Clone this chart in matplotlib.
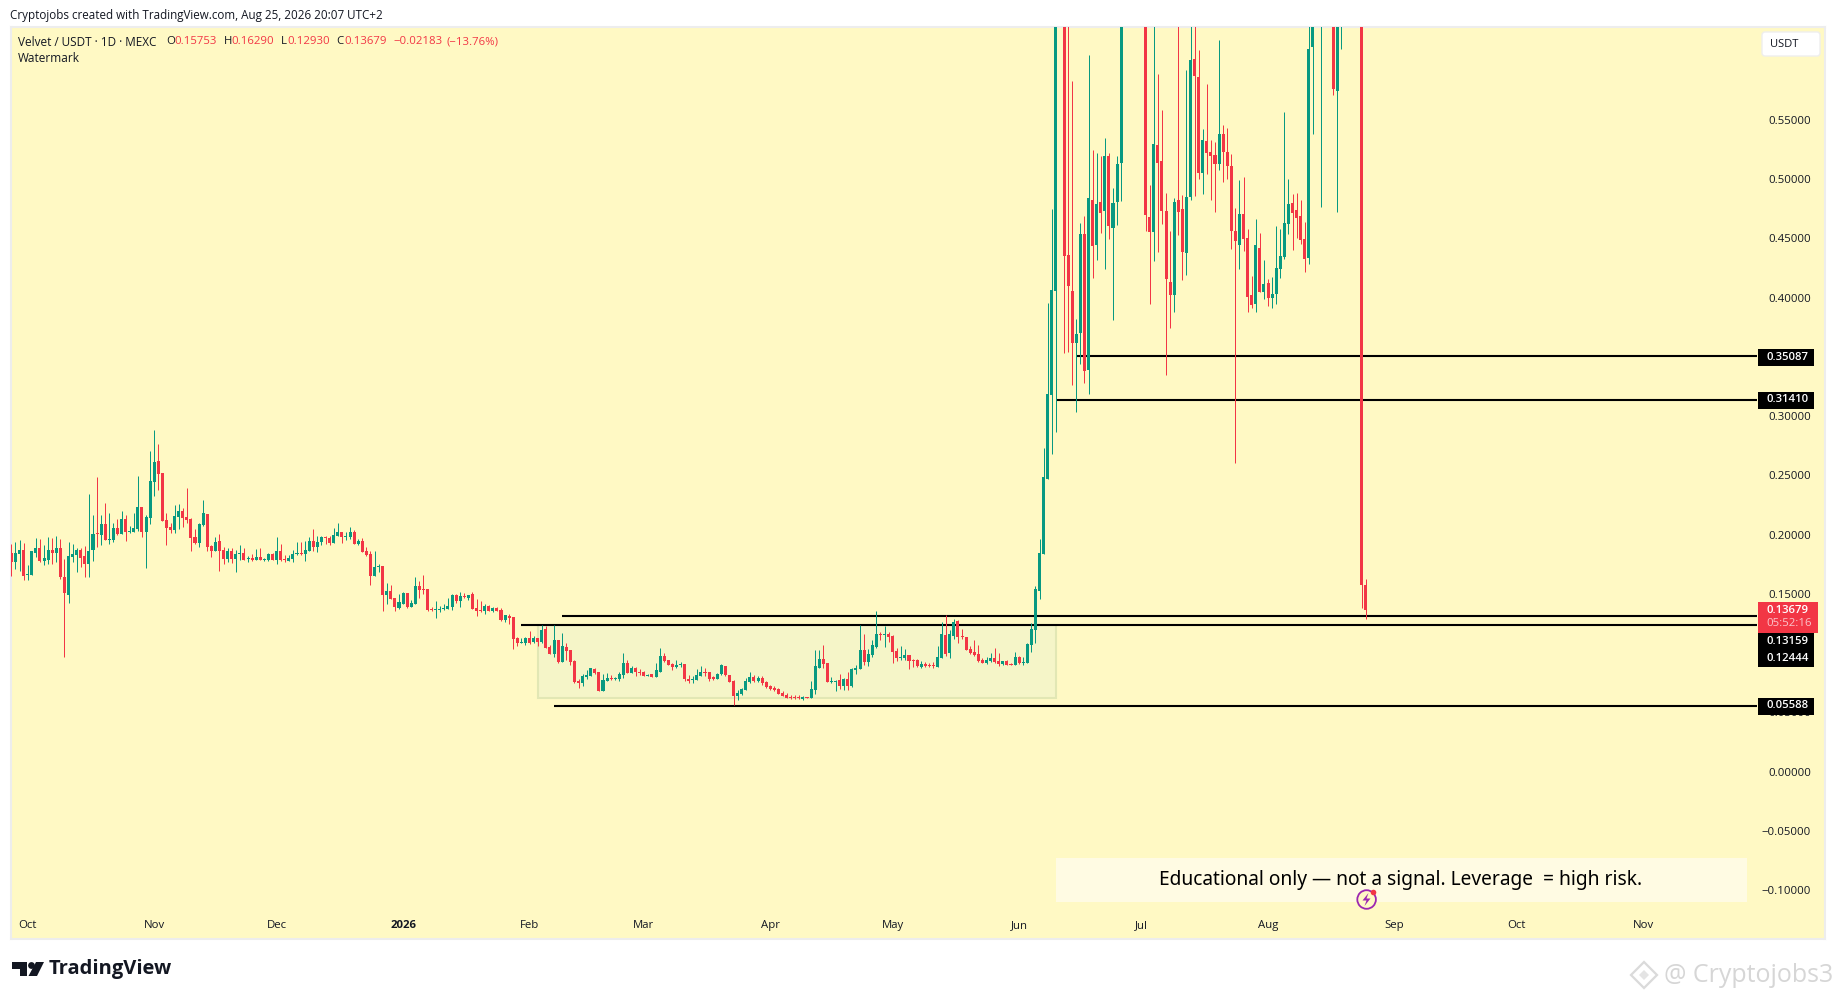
import numpy as np
import pandas as pd
import matplotlib
matplotlib.use("Agg")
import matplotlib.pyplot as plt
from matplotlib.patches import Rectangle, FancyBboxPatch, Circle, Polygon

# ---------------- data ----------------
start_date = "2025-09-27"
opens = [.1849,.1773,.1840,.1874,.1663,.1663,.1849,.1891,.1781,.1790,
.1874,.1849,.1891,.1646,.1494,.1815,.1832,.1874,.1824,.1756,
.1874,.2018,.2001,.2094,.1959,.1959,.2060,.2009,.2136,.2026,
.2026,.2051,.2237,.2026,.2144,.2448,.2626,.2524,.2127,.2068,
.2043,.2153,.2203,.2153,.2136,.1984,.1933,.2085,.2178,.1908,
.1866,.1950,.1874,.1798,.1866,.1798,.1840,.1849,.1798,.1807,
.1790,.1815,.1790,.1790,.1840,.1790,.1866,.1798,.1781,.1798,
.1840,.1849,.1840,.1866,.1950,.1900,.1942,.1984,.1976,.1933,
.1992,.2026,.1984,.1984,.2026,.1925,.1950,.1866,.1840,.1655,
.1731,.1739,.1494,.1528,.1469,.1385,.1418,.1511,.1393,.1418,
.1570,.1545,.1545,.1376,.1368,.1368,.1376,.1376,.1393,.1494,
.1444,.1486,.1469,.1503,.1385,.1368,.1359,.1401,.1359,.1385,
.1368,.1283,.1320,.1309,.1131,.1089,.1089,.1131,.1097,.1131,
.1095,.1207,.1055,.0996,.1114,.0929,.1055,.1030,.0937,.0768,
.0751,.0802,.0810,.0870,.0844,.0684,.0768,.0794,.0785,.0785,
.0819,.0920,.0836,.0878,.0844,.0844,.0810,.0827,.0802,.0844,
.0979,.0946,.0912,.0886,.0903,.0912,.0785,.0777,.0777,.0810,
.0844,.0844,.0802,.0785,.0827,.0895,.0819,.0768,.0642,.0659,
.0692,.0760,.0802,.0768,.0794,.0760,.0726,.0709,.0701,.0667,
.0650,.0633,.0625,.0625,.0616,.0633,.0625,.0692,.0878,.0954,
.0920,.0760,.0760,.0777,.0726,.0785,.0726,.0861,.0870,.1030,
.0929,.0988,.1055,.1165,.1157,.1165,.1148,.1022,.0962,.0962,
.0988,.0946,.0946,.0886,.0912,.0903,.0903,.0886,.0962,.1157,
.1005,.1148,.1275,.1148,.1140,.1038,.1013,.0996,.0946,.0920,
.0937,.0962,.0937,.0912,.0937,.0912,.0903,.0971,.0920,.0920,
.1072,.1199,.1528,.1840,.2474,.3183,.4061,.68,.70,.4365,
.4061,.3622,.3706,.4542,.3394,.4829,.4449,.4812,.4736,.5200,
.4593,.4812,.5141,.66,.68,.70,.72,.70,.68,.4685,
.4559,.5293,.5158,.4736,.4137,.4027,.4829,.4753,.4382,.4854,
.6019,.5867,.5057,.5327,.5234,.5209,.5133,.5386,.5234,.5116,
.4567,.4449,.4711,.4508,.4027,.3951,.4424,.4052,.4128,.4002,
.4035,.4246,.4348,.4626,.4804,.4745,.4694,.4500,.4339,.6121,
.66,.65,.70,.72,.72,.5749,.65,.70,.68,.68,
.70,.68,.15753]
highs = [.1925,.1942,.1959,.1933,.1748,.1866,.1976,.1967,.1916,.1984,
.1976,.1992,.1967,.1798,.1942,.1925,.1891,.1891,.1908,.2347,
.2170,.2490,.2170,.2271,.2187,.2102,.2136,.2203,.2170,.2077,
.2187,.2499,.2237,.2170,.2710,.2887,.2769,.2524,.2187,.2102,
.2254,.2263,.2229,.2398,.2144,.2051,.2102,.2296,.2178,.1916,
.1984,.2009,.1900,.1891,.1891,.1874,.1916,.1891,.1824,.1840,
.1883,.1891,.1807,.1849,.1849,.1984,.1925,.1832,.1832,.1874,
.1942,.1942,.1950,.1984,.2051,.1992,.1992,.1992,.1992,.2060,
.2102,.2026,.2026,.2068,.2043,.1967,.1976,.1900,.1866,.1866,
.1756,.1739,.1596,.1579,.1469,.1503,.1520,.1511,.1452,.1646,
.1612,.1663,.1545,.1393,.1444,.1401,.1418,.1469,.1503,.1503,
.1520,.1511,.1494,.1520,.1461,.1444,.1418,.1410,.1393,.1393,
.1385,.1325,.1334,.1309,.1140,.1131,.1140,.1190,.1148,.1131,
.1241,.1233,.1072,.1241,.1114,.1173,.1089,.1030,.0946,.0785,
.0827,.0861,.0878,.0878,.0844,.0827,.0836,.0819,.0802,.0844,
.1005,.0946,.0895,.0886,.0870,.0853,.0827,.0827,.0920,.1047,
.1005,.0946,.0920,.0946,.0929,.0912,.0819,.0810,.0870,.0895,
.0878,.0844,.0810,.0836,.0912,.0895,.0819,.0777,.0692,.0709,
.0794,.0844,.0819,.0810,.0810,.0768,.0734,.0726,.0709,.0684,
.0667,.0650,.0650,.0650,.0642,.0633,.0768,.1030,.1030,.1072,
.0920,.0802,.0777,.0827,.0794,.0844,.0878,.0903,.1241,.1165,
.1038,.1114,.1359,.1182,.1233,.1182,.1157,.1047,.1064,.1038,
.0988,.0954,.0954,.0937,.0929,.0920,.0929,.1064,.1266,.1325,
.1199,.1292,.1283,.1207,.1140,.1064,.1114,.1072,.0962,.0971,
.1005,.1047,.1005,.0937,.0946,.0920,.1013,.0979,.0971,.1089,
.1258,.1570,.1967,.2735,.3959,.4753,.70,.78,.74,.66,
.5834,.3824,.4635,.4694,.6053,.5251,.5226,.5200,.5352,.5226,
.4930,.5200,.70,.72,.76,.75,.78,.74,.70,.4956,
.66,.5893,.5589,.4888,.4567,.4846,.66,.4871,.5926,.66,
.66,.6095,.5428,.5808,.5336,.5319,.6180,.5462,.5437,.5217,
.4761,.4998,.5023,.4584,.4187,.4669,.4550,.4322,.4162,.4179,
.4610,.4584,.5572,.5006,.4880,.4888,.4829,.4643,.66,.70,
.72,.72,.76,.76,.76,.72,.72,.74,.72,.72,
.74,.72,.16290]
lows = [.1655,.1714,.1697,.1621,.1621,.1663,.1815,.1773,.1748,.1756,
.1756,.1773,.1629,.0971,.1427,.1773,.1688,.1731,.1646,.1646,
.1781,.1900,.1916,.1959,.1925,.1942,.2001,.2009,.1950,.2018,
.2026,.2035,.1984,.1722,.2094,.2330,.2381,.2119,.1916,.2018,
.2018,.2051,.2068,.2102,.1866,.1925,.1900,.2077,.1866,.1815,
.1866,.1697,.1756,.1773,.1764,.1688,.1790,.1790,.1773,.1781,
.1790,.1790,.1781,.1781,.1790,.1756,.1781,.1773,.1781,.1773,
.1832,.1832,.1781,.1866,.1866,.1857,.1916,.1925,.1916,.1933,
.1992,.1933,.1959,.1967,.1925,.1916,.1857,.1824,.1579,.1655,
.1688,.1359,.1418,.1461,.1359,.1376,.1418,.1385,.1393,.1418,
.1469,.1503,.1359,.1359,.1300,.1351,.1368,.1376,.1368,.1427,
.1393,.1469,.1452,.1376,.1317,.1351,.1334,.1359,.1351,.1359,
.1275,.1266,.1249,.1038,.1064,.1089,.1072,.1081,.1089,.1064,
.1086,.1047,.0996,.0971,.0920,.0929,.0946,.0903,.0751,.0709,
.0726,.0785,.0810,.0827,.0684,.0684,.0768,.0777,.0777,.0768,
.0794,.0836,.0836,.0810,.0819,.0810,.0810,.0802,.0802,.0844,
.0929,.0903,.0861,.0878,.0886,.0768,.0751,.0751,.0777,.0810,
.0810,.0768,.0777,.0785,.0819,.0810,.0760,.0566,.0608,.0650,
.0692,.0751,.0760,.0760,.0734,.0709,.0692,.0684,.0659,.0642,
.0625,.0616,.0616,.0616,.0608,.0622,.0625,.0659,.0878,.0878,
.0760,.0751,.0684,.0701,.0692,.0692,.0718,.0827,.0870,.0903,
.0895,.0971,.1047,.1114,.1055,.1097,.0920,.0937,.0946,.0946,
.0870,.0886,.0886,.0878,.0886,.0886,.0878,.0886,.0962,.0979,
.0962,.1123,.1089,.1123,.1030,.0996,.0979,.0929,.0920,.0912,
.0929,.0920,.0895,.0903,.0903,.0903,.0903,.0912,.0903,.0920,
.1013,.1089,.1461,.1840,.2474,.2685,.2870,.66,.3540,.3549,
.3267,.3039,.3444,.3284,.3191,.4170,.4322,.4550,.4246,.4500,
.3816,.4618,.4821,.64,.65,.66,.67,.66,.4567,.3951,
.4314,.4390,.4626,.3352,.3748,.3884,.4534,.4154,.4196,.4829,
.4863,.5006,.4880,.5048,.4829,.4728,.5082,.4981,.5006,.4415,
.2612,.4246,.4398,.3884,.3917,.3884,.4052,.3993,.3934,.3917,
.3951,.4170,.4331,.4542,.4407,.4508,.4458,.4221,.4289,.5386,
.64,.4770,.65,.66,.5715,.4728,.6104,.65,.65,.65,
.65,.1385,.12930]
closes = [.1773,.1849,.1874,.1655,.1672,.1866,.1891,.1781,.1807,.1874,
.1849,.1891,.1646,.1511,.1824,.1840,.1874,.1807,.1756,.1866,
.2009,.2006,.2094,.1959,.1967,.2060,.2009,.2136,.2026,.2035,
.2060,.2237,.2026,.2153,.2457,.2617,.2516,.2119,.2060,.2043,
.2161,.2203,.2144,.2127,.1976,.1933,.2094,.2187,.1900,.1866,
.1942,.1866,.1798,.1866,.1798,.1840,.1849,.1790,.1807,.1790,
.1815,.1790,.1798,.1840,.1790,.1866,.1790,.1790,.1807,.1840,
.1849,.1840,.1874,.1950,.1900,.1942,.1984,.1976,.1933,.2001,
.2026,.1984,.1992,.2026,.1925,.1950,.1857,.1832,.1655,.1731,
.1739,.1494,.1528,.1461,.1393,.1435,.1511,.1393,.1427,.1570,
.1536,.1536,.1368,.1368,.1376,.1376,.1385,.1401,.1494,.1444,
.1486,.1477,.1494,.1376,.1359,.1359,.1401,.1359,.1385,.1359,
.1283,.1325,.1300,.1123,.1089,.1097,.1131,.1089,.1131,.1097,
.1199,.1047,.0996,.1114,.0929,.1064,.1022,.0929,.0760,.0751,
.0810,.0819,.0878,.0836,.0684,.0777,.0794,.0785,.0794,.0827,
.0920,.0836,.0878,.0844,.0836,.0810,.0819,.0802,.0861,.0979,
.0937,.0903,.0886,.0903,.0912,.0785,.0768,.0785,.0819,.0844,
.0836,.0785,.0785,.0827,.0903,.0819,.0760,.0642,.0667,.0701,
.0768,.0802,.0768,.0794,.0751,.0718,.0701,.0692,.0659,.0642,
.0625,.0625,.0622,.0622,.0633,.0625,.0701,.0895,.0954,.0912,
.0760,.0768,.0768,.0726,.0785,.0726,.0870,.0878,.1030,.0929,
.0996,.1072,.1165,.1157,.1165,.1140,.1013,.0962,.0971,.0988,
.0937,.0937,.0895,.0912,.0895,.0895,.0895,.0971,.1165,.0996,
.1165,.1266,.1140,.1140,.1030,.1005,.0988,.0937,.0920,.0946,
.0962,.0929,.0912,.0937,.0903,.0903,.0971,.0920,.0929,.1081,
.1207,.1545,.1846,.2490,.3191,.4069,.66,.74,.4356,.4103,
.3622,.3698,.4542,.3385,.4846,.4441,.4795,.4719,.5200,.4610,
.4804,.5133,.66,.68,.70,.72,.70,.68,.4702,.4559,
.5302,.5141,.4736,.4162,.4027,.4812,.4728,.4390,.4854,.6011,
.5876,.5057,.5336,.5226,.5200,.5133,.5386,.5234,.5116,.4567,
.4483,.4711,.4500,.4010,.3943,.4449,.4052,.4120,.4002,.4035,
.4255,.4356,.4635,.4795,.4719,.4677,.4491,.4331,.6104,.66,
.70,.70,.72,.71,.5766,.70,.70,.68,.68,.70,
.68,.1579,.13679]

level_values = [0.35087, 0.31410, 0.13159, 0.12444, 0.05588]
level_starts = ["2026-06-15", "2026-06-10", "2026-02-09", "2026-01-30", "2026-02-07"]
range_start, range_end = "2026-02-03", "2026-06-10"
range_low, range_high = 0.0625, 0.1241
tick_dates = ["2025-10-01", "2025-11-01", "2025-12-01", "2026-01-01", "2026-02-01", "2026-03-01",
              "2026-04-01", "2026-05-01", "2026-06-01", "2026-07-01", "2026-08-01", "2026-09-01",
              "2026-10-01", "2026-11-01"]
tick_labels = ["Oct", "Nov", "Dec", "2026", "Feb", "Mar", "Apr", "May", "Jun", "Jul", "Aug", "Sep", "Oct", "Nov"]
price_ticks = [0.55, 0.50, 0.45, 0.40, 0.30, 0.25, 0.20, 0.15, 0.05, 0.0, -0.05, -0.10]

# ---------------- styles ----------------
W, H = 1835, 1000
GREEN, RED = "#089981", "#F23645"
BG = "#FFF9C4"
INK = "#131722"
FONT = "Open Sans"
plt.rcParams["font.family"] = [FONT, "DejaVu Sans"]

fig = plt.figure(figsize=(W / 100, H / 100), dpi=100, facecolor="white")
L, R, T, B = 11, 1825, 27, 939
ax = fig.add_axes([L / W, 1 - B / H, (R - L) / W, (B - T) / H], facecolor=BG)

base = pd.Timestamp(start_date)
def day(s):
    return (pd.Timestamp(s) - base).days

PX_PER_DAY = 4.08
x = np.arange(len(opens))
o, h, l, c = map(np.array, (opens, highs, lows, closes))
assert len(o) == len(h) == len(l) == len(c) == 333
up = c >= o
colors = np.where(up, GREEN, RED)

ax.set_xlim((L - 11.4) / PX_PER_DAY, (R - 11.4) / PX_PER_DAY)
ax.set_ylim((772 - B) / 1184.5, (772 - T) / 1184.5)

# consolidation range
ax.add_patch(Rectangle((day(range_start), range_low), day(range_end) - day(range_start),
                       range_high - range_low, facecolor="#F5F5C8", edgecolor="#E2E7B4",
                       linewidth=1.5, zorder=1))
# horizontal levels
line_end = (1757 - 11.4) / PX_PER_DAY
for v, s in zip(level_values, level_starts):
    ax.plot([day(s), line_end], [v, v], color="black", lw=1.5, zorder=2, solid_capstyle="butt")
# candles
ax.vlines(x, l, h, colors=colors, linewidth=0.72, zorder=3)
heights = np.maximum(np.abs(c - o), 0.0009)
ax.bar(x, heights, bottom=np.minimum(o, c), width=0.74, color=colors, linewidth=0, zorder=4)

ax.set_xticks([day(d) for d in tick_dates])
ax.set_xticklabels(tick_labels, fontsize=8.2, color=INK)
for lab, t in zip(ax.get_xticklabels(), tick_labels):
    if t == "2026":
        lab.set_fontweight("bold")
ax.tick_params(axis="x", length=0, pad=-13.5)
ax.set_yticks([])
for sp in ax.spines.values():
    sp.set_color("#EDEDED")
    sp.set_linewidth(1.5)

# overlay in pixel space for chart furniture
ov = fig.add_axes([0, 0, 1, 1], facecolor="none")
ov.set_xlim(0, W)
ov.set_ylim(H, 0)
ov.axis("off")
def y_of(v):
    return 773 - 1184.5 * v

for v in price_ticks:
    s = f"{abs(v):.5f}"
    if v < 0:
        s = "\u2212" + s
    ov.text(1811, y_of(v), s, ha="right", va="center", fontsize=8.2, color=INK, zorder=1)

def tag(text, ymid):
    ov.add_patch(Rectangle((1758, ymid - 8.5), 56, 17, facecolor="black", edgecolor="none", zorder=3))
    ov.text(1766, ymid, text, ha="left", va="center", fontsize=8.2,
            color="white", fontweight="semibold", zorder=4)

tag(f"{level_values[0]:.5f}", 357)
tag(f"{level_values[1]:.5f}", 400)
tag(f"{level_values[4]:.5f}", 706)
ov.add_patch(Rectangle((1758, 632.5), 56, 34.5, facecolor="black", edgecolor="none", zorder=3))
for v, yy in ((level_values[2], 641.7), (level_values[3], 658.7)):
    ov.text(1766, yy, f"{v:.5f}", ha="left", va="center", fontsize=8.2, color="white",
            fontweight="semibold", zorder=4)
ov.add_patch(Rectangle((1758, 602), 60, 30.7, facecolor=RED, edgecolor="none", zorder=3))
ov.text(1766, 610.7, f"{closes[-1]:.5f}", ha="left", va="center", fontsize=8.2, color="white",
        fontweight="semibold", zorder=4)
ov.text(1766, 624, "05:52:16", ha="left", va="center", fontsize=8.2, color="#FBC4CA", zorder=4)

# currency button
ov.add_patch(FancyBboxPatch((1762, 32), 58, 24, boxstyle="round,pad=0,rounding_size=3",
                            facecolor="white", edgecolor="#EEEEEE", linewidth=1, zorder=3))
ov.text(1770, 44.5, "USDT", ha="left", va="center", fontsize=8, color=INK, zorder=4)

# header + legend
ov.text(10, 15.5, "Cryptojobs created with TradingView.com, Aug 25, 2026 20:07 UTC+2", ha="left", va="center",
        fontsize=8.35, color=INK)
LY = 42
ov.text(18, LY, "Velvet / USDT \u00b7 1D \u00b7 MEXC", ha="left", va="center", fontsize=8.45, color=INK)
for xx, s, col in [(166.5, "O", INK), (174, "0.15753", RED), (224, "H", INK), (231.5, "0.16290", RED),
                   (280.5, "L", INK), (287, "0.12930", RED), (336, "C", INK), (344.4, "0.13679", RED),
                   (393, "\u22120.02183", RED), (446, "(\u221213.76%)", RED)]:
    ov.text(xx, LY, s, ha="left", va="center", fontsize=8.2, color=col)
ov.text(18, 59, "Watermark", ha="left", va="center", fontsize=8.45, color=INK)

# educational note
ov.add_patch(Rectangle((1055.5, 858), 691.5, 44, facecolor="#FFFBE3", edgecolor="none", zorder=2))
ov.text(1401, 880.5, "Educational only \u2014 not a signal. Leverage  = high risk.", ha="center", va="center",
        fontsize=13.8, color="black", family="Noto Sans", zorder=3)
# event icon
ov.add_patch(Circle((1366.6, 899.5), 9.3, facecolor="#FFF9C4", edgecolor="#9C27B0", linewidth=1.3, zorder=4))
ov.add_patch(Polygon([(1368.5, 893), (1362.5, 900.5), (1366.5, 900.5), (1364.5, 906),
                      (1370.5, 898.5), (1366.5, 898.5)], closed=True, facecolor="#9C27B0",
                     edgecolor="none", zorder=5))
ov.add_patch(Circle((1373.5, 892.5), 2.8, facecolor=RED, edgecolor="none", zorder=6))

# TradingView logo
LOGO = "#131722"
ov.add_patch(Polygon([(12, 962), (27, 962), (27, 976), (20, 976), (20, 969), (12, 969)], closed=True,
                     facecolor=LOGO, edgecolor="none"))
ov.add_patch(Circle((31.5, 965.5), 3.4, facecolor=LOGO, edgecolor="none"))
ov.add_patch(Polygon([(36, 962), (44, 962), (37, 976), (28.5, 976)], closed=True, facecolor=LOGO, edgecolor="none"))
ov.text(49, 969, "TradingView", ha="left", va="center", fontsize=14.5, fontweight="bold", color=LOGO)

# platform watermark
cx, cy, r = 1644, 975, 13
ov.add_patch(Polygon([(cx, cy - r), (cx + r, cy), (cx, cy + r), (cx - r, cy)], closed=True,
                     facecolor="none", edgecolor="#DADADA", linewidth=1.6))
ov.add_patch(Polygon([(cx, cy - 5), (cx + 5, cy), (cx, cy + 5), (cx - 5, cy)], closed=True,
                     facecolor="#E4E4E4", edgecolor="none"))
ov.text(1664, 975, "@ Cryptojobs3", ha="left", va="center", fontsize=18, color="#D6D6D6", clip_on=True)

fig.savefig("out.png", dpi=100, facecolor="white")
